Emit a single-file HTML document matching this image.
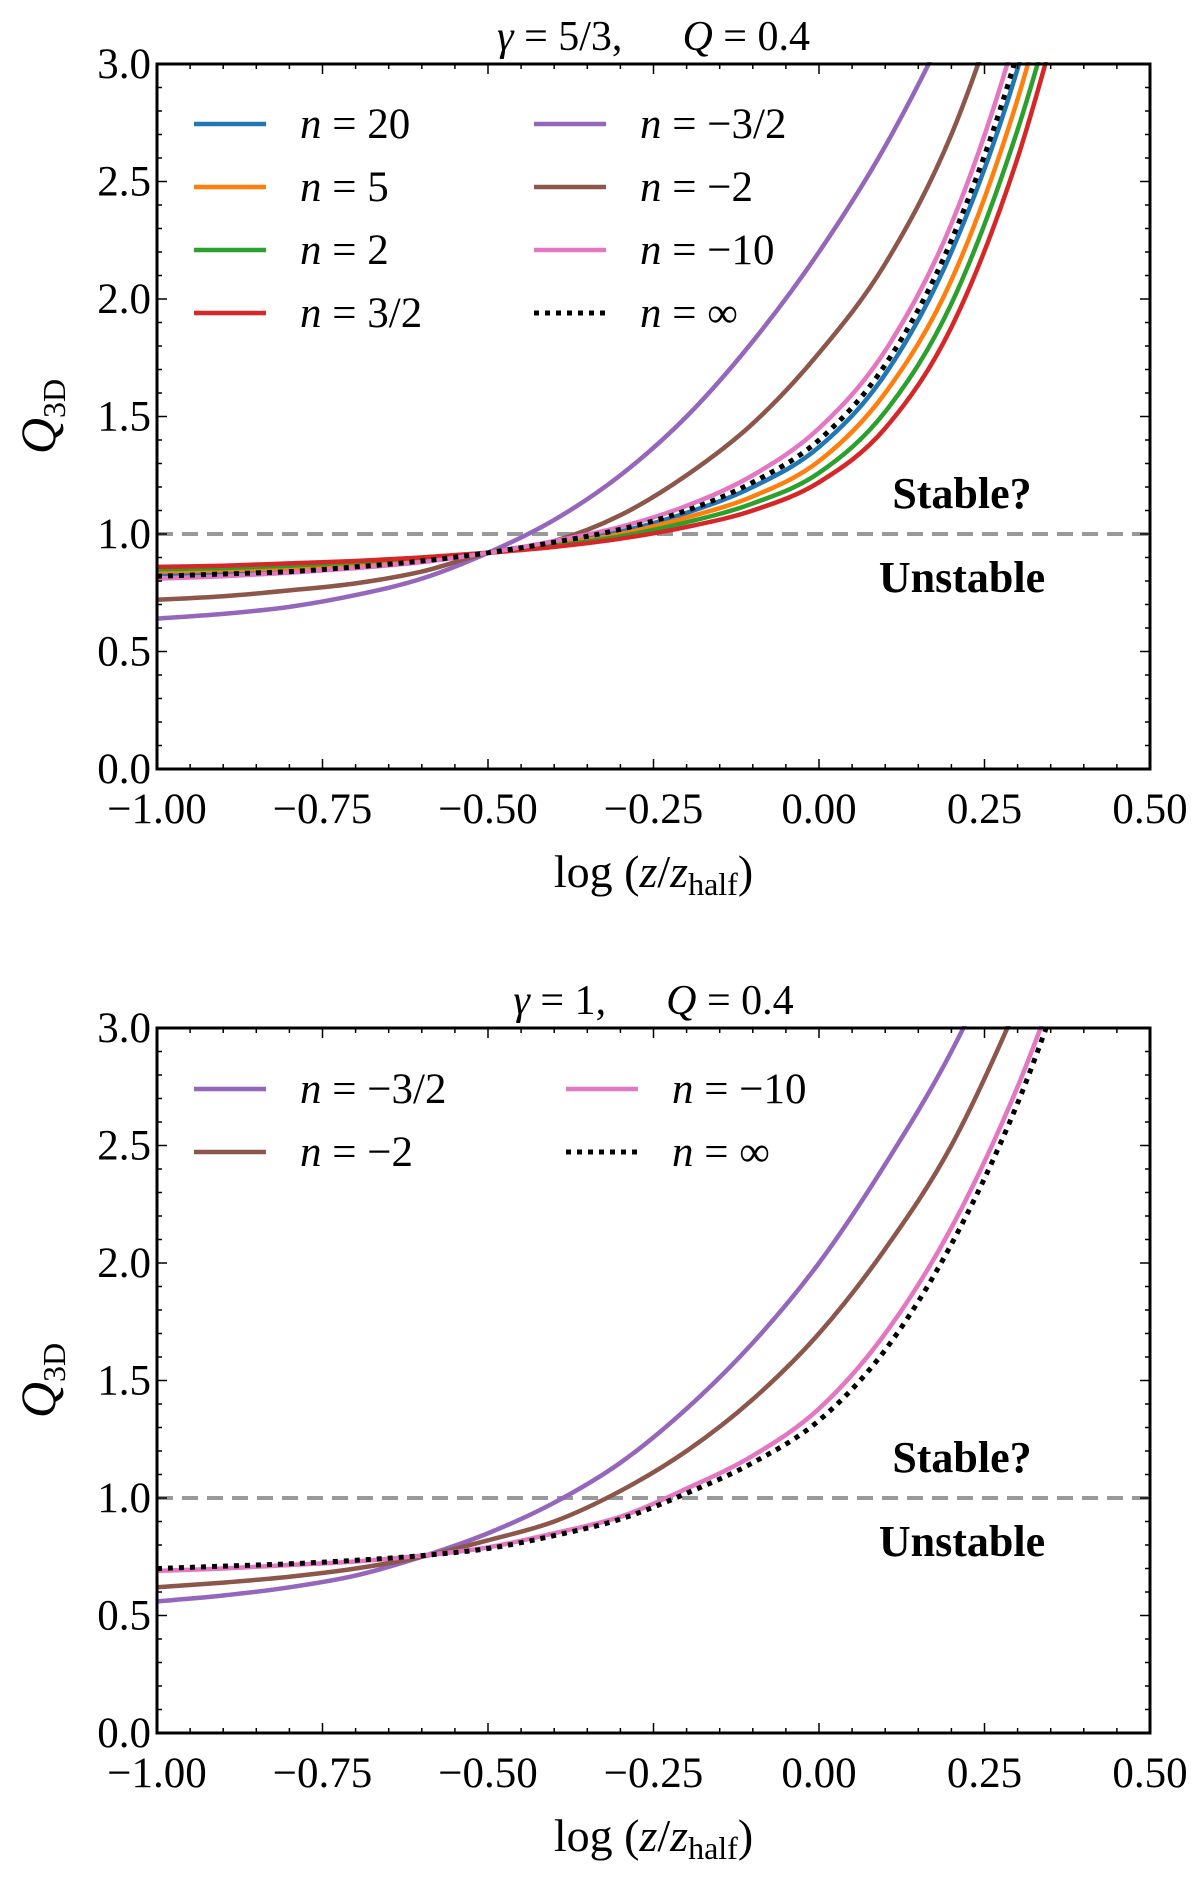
<!DOCTYPE html>
<html><head><meta charset="utf-8"><style>
html,body{margin:0;padding:0;background:#fff;}
svg{display:block;font-family:"Liberation Serif",serif;}
</style></head><body>
<svg id="fig" width="1200" height="1878" viewBox="0 0 1200 1878" xmlns="http://www.w3.org/2000/svg"></svg>
<script>
// ---- shared x grid (log z/z_half) ----
const xGrid = [-1,-0.9,-0.8,-0.7,-0.6,-0.5,-0.4,-0.3,-0.2,-0.1,0,0.1,0.2,0.3,0.4];
// ---- data: top panel (gamma = 5/3) ----
const topNames = ["n = 20","n = 5","n = 2","n = 3/2","n = −3/2","n = −2","n = −10","n = ∞"];
const topColors = ["#1f77b4","#ff7f0e","#2ca02c","#d62728","#9467bd","#8c564b","#e377c2","#000"];
const topY20  = [0.83,0.835,0.85,0.865,0.89,0.92,0.96,1.01,1.09,1.2,1.37,1.68,2.2,2.98,4.1];
const topY5   = [0.84,0.845,0.855,0.87,0.895,0.92,0.955,1.0,1.07,1.16,1.31,1.6,2.08,2.85,3.9];
const topY2   = [0.85,0.855,0.865,0.88,0.9,0.92,0.95,0.99,1.05,1.13,1.26,1.52,1.98,2.72,3.7];
const topY32  = [0.86,0.865,0.875,0.885,0.9,0.92,0.945,0.98,1.03,1.1,1.22,1.45,1.88,2.6,3.6];
const topYm32 = [0.64,0.66,0.69,0.74,0.81,0.92,1.06,1.25,1.5,1.82,2.2,2.65,3.2,3.85,4.6];
const topYm2  = [0.72,0.735,0.76,0.79,0.84,0.92,0.97,1.08,1.25,1.47,1.77,2.15,2.7,3.5,4.4];
const topYm10 = [0.81,0.82,0.835,0.855,0.88,0.92,0.97,1.03,1.12,1.25,1.45,1.78,2.32,3.15,4.3];
const topYinf = [0.82,0.83,0.84,0.86,0.885,0.92,0.965,1.02,1.1,1.22,1.4,1.72,2.25,3.05,4.2];
// ---- data: bottom panel (gamma = 1) ----
const botNames = ["n = −3/2","n = −2","n = −10","n = ∞"];
const botColors = ["#9467bd","#8c564b","#e377c2","#000"];
const botYm32 = [0.56,0.585,0.62,0.67,0.75,0.85,0.98,1.15,1.38,1.66,2.0,2.42,2.9,3.5,4.2];
const botYm2  = [0.62,0.64,0.665,0.7,0.75,0.82,0.9,1.03,1.2,1.42,1.7,2.06,2.5,3.1,3.8];
const botYm10 = [0.69,0.7,0.715,0.73,0.755,0.79,0.85,0.92,1.04,1.18,1.38,1.7,2.15,2.75,3.5];
const botYinf = [0.70,0.71,0.72,0.735,0.755,0.785,0.84,0.91,1.02,1.15,1.33,1.63,2.08,2.68,3.45];
// ---- ticks ----
const xTicks = [-1,-0.75,-0.5,-0.25,0,0.25,0.5];
const xTickLabels = ["−1.00","−0.75","−0.50","−0.25","0.00","0.25","0.50"];
const yTicks = [0,0.5,1,1.5,2,2.5,3];
const yTickLabels = ["0.0","0.5","1.0","1.5","2.0","2.5","3.0"];

const NS="http://www.w3.org/2000/svg";
const svg=document.getElementById('fig');
function mk(tag,attrs,parent){const e=document.createElementNS(NS,tag);for(const k in attrs)e.setAttribute(k,attrs[k]);(parent||svg).appendChild(e);return e;}
function smooth(pts){let d="M"+pts[0][0]+","+pts[0][1];for(let i=0;i<pts.length-1;i++){const p0=pts[Math.max(0,i-1)],p1=pts[i],p2=pts[i+1],p3=pts[Math.min(pts.length-1,i+2)];const c1=[p1[0]+(p2[0]-p0[0])/6,p1[1]+(p2[1]-p0[1])/6];const c2=[p2[0]-(p3[0]-p1[0])/6,p2[1]-(p3[1]-p1[1])/6];d+=" C"+c1[0]+","+c1[1]+" "+c2[0]+","+c2[1]+" "+p2[0]+","+p2[1];}return d;}

function panel(P,title,series,names,colors,legendCols,idx){
  const g=mk('g',{});
  
  
  const sx=v=>P.l+(v+1)/1.5*(P.r-P.l);
  const sy=v=>P.b-v/3*(P.b-P.t);
  const t=mk('text',{x:(P.l+P.r)/2,y:P.t-14,'text-anchor':'middle','font-size':42},g);
  
  
  t.innerHTML='<tspan font-style="italic">γ</tspan> = '+title[0]+',<tspan dx="60" font-style="italic">Q</tspan> = '+title[1];
  const dl=mk('line',{x1:P.l,x2:P.r,y1:sy(1),y2:sy(1),stroke:'#999',"stroke-width":4,"stroke-dasharray":"16,9"},g);
  
  
  const clipId='clip'+idx;
  const cp=mk('clipPath',{id:clipId},g);mk('rect',{x:P.l,y:P.t-2,width:P.r-P.l,height:P.b-P.t+2},cp);
  series.forEach((s,i)=>{
    const pts=xGrid.map((x,j)=>[sx(x),sy(s[j])]);
    const dotted=colors[i]==="#000";
    const p=mk('path',{d:smooth(pts),fill:'none',stroke:colors[i],'stroke-width':dotted?5:4.5,'stroke-dasharray':dotted?'5,6':'none','clip-path':'url(#'+clipId+')'},g);
    
    
  });
  const s1=mk('text',{x:962,y:sy(1)-26,'text-anchor':'middle','font-size':44,'font-weight':'bold'},g);s1.textContent='Stable?';
  
  
  const s2=mk('text',{x:962,y:sy(1)+58,'text-anchor':'middle','font-size':44,'font-weight':'bold'},g);s2.textContent='Unstable';
  
  
  const fr=mk('rect',{x:P.l,y:P.t,width:P.r-P.l,height:P.b-P.t,fill:'none',stroke:'#000','stroke-width':3},g);
  
  
  for(let v=-1;v<=0.5001;v+=0.05){const x=sx(v);const major=Math.abs(Math.round(v*4)-v*4)<1e-6;const L=major?10:5;
    mk('line',{x1:x,x2:x,y1:P.b,y2:P.b-L,stroke:'#000','stroke-width':1.5},g);mk('line',{x1:x,x2:x,y1:P.t,y2:P.t+L,stroke:'#000','stroke-width':1.5},g);}
  for(let v=0;v<=3.001;v+=0.1){const y=sy(v);const major=Math.abs(Math.round(v*2)-v*2)<1e-6;const L=major?10:5;
    mk('line',{x1:P.l,x2:P.l+L,y1:y,y2:y,stroke:'#000','stroke-width':1.5},g);mk('line',{x1:P.r,x2:P.r-L,y1:y,y2:y,stroke:'#000','stroke-width':1.5},g);}
  xTicks.forEach((v,i)=>{const tx=mk('text',{x:sx(v),y:P.b+54,'text-anchor':'middle','font-size':43},g);tx.textContent=xTickLabels[i];
    
    });
  yTicks.forEach((v,i)=>{const ty=mk('text',{x:P.l-6,y:sy(v)+14,'text-anchor':'end','font-size':43},g);ty.textContent=yTickLabels[i];
    
    });
  const xl=mk('text',{x:(P.l+P.r)/2,y:P.b+118,'text-anchor':'middle','font-size':46},g);
  xl.innerHTML='log (<tspan font-style="italic">z</tspan>/<tspan font-style="italic">z</tspan><tspan font-size="32" dy="8">half</tspan><tspan dy="-8">)</tspan>';
  
  
  const yl=mk('text',{x:0,y:0,'text-anchor':'middle','font-size':50,transform:'translate(55,'+((P.t+P.b)/2)+') rotate(-90)'},g);
  yl.innerHTML='<tspan font-style="italic">Q</tspan><tspan font-size="32" dy="10">3D</tspan>';
  
  
  names.forEach((n,i)=>{const col=Math.floor(i/legendCols.rows),row=i%legendCols.rows;
    const lx=legendCols.x[col],ly=P.t+legendCols.y0+row*legendCols.dy;
    const dotted=colors[i]==="#000";
    const le=mk('g',{},g);
    
    
    mk('line',{x1:lx,x2:lx+72,y1:ly,y2:ly,stroke:colors[i],'stroke-width':dotted?5:4.5,'stroke-dasharray':dotted?'5,6':'none'},le);
    const lt=mk('text',{x:lx+106,y:ly+14,'font-size':43},le);
    const parts=n.split(' = ');
    lt.innerHTML='<tspan font-style="italic">n</tspan> = '+parts[1];
  });
}
panel({l:157,r:1150,t:64,b:769},["5/3","0.4"],
  [topY20,topY5,topY2,topY32,topYm32,topYm2,topYm10,topYinf],
  topNames,topColors,{rows:4,x:[194,534],y0:60,dy:63},1);
panel({l:157,r:1150,t:1028,b:1733},["1","0.4"],
  [botYm32,botYm2,botYm10,botYinf],
  botNames,botColors,{rows:2,x:[194,566],y0:61,dy:63},2);
</script>
</body></html>
